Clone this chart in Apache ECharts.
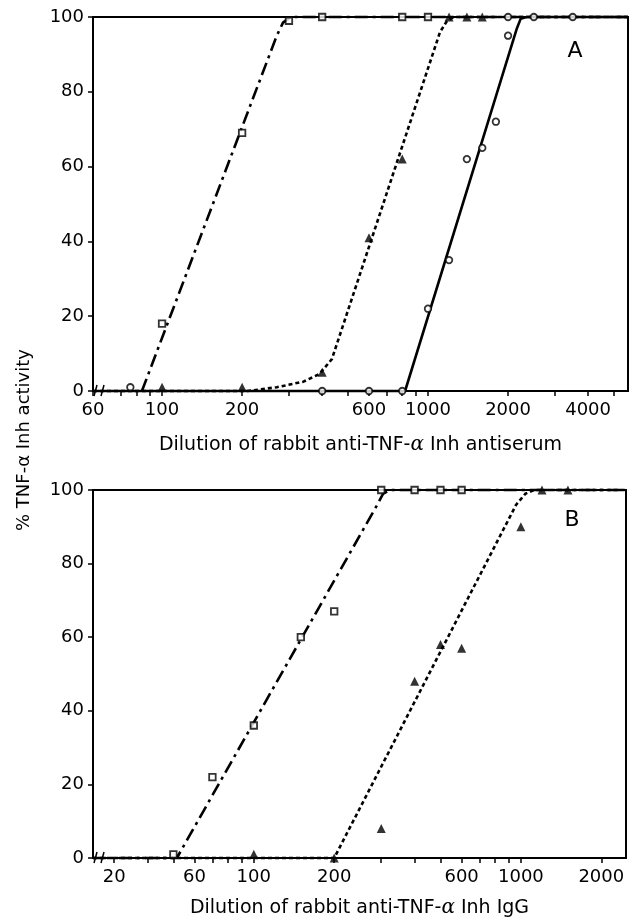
<!DOCTYPE html>
<html><head><meta charset="utf-8">
<script src="https://cdn.jsdelivr.net/npm/echarts@6/dist/echarts.min.js"></script>
<style>html,body{margin:0;padding:0;background:#fff}#c{width:636px;height:919px}</style>
</head><body><div id="c"></div>
<script>
// ---- axis ticks ----
const xMinA = 55, xMaxA = 5650;
const xMinB = 25, xMaxB = 2475;
const tickValsA = [55, 100, 200, 600, 1000, 2000, 4000];
const tickTextA = ['60', '100', '200', '600', '1000', '2000', '4000'];
const minorTicksA = [70, 80, 90, 300, 400, 500, 700, 800, 900, 3000, 5000];
const tickValsB = [30, 60, 100, 200, 600, 1000, 2000];
const tickTextB = ['20', '60', '100', '200', '600', '1000', '2000'];
const minorTicksB = [40, 50, 70, 80, 90, 300, 400, 500, 700, 800, 900];

// ---- panel A data ----
const aSquares = [[100, 18], [200, 69], [300, 99], [400, 100], [800, 100], [1000, 100]];
const aTriangles = [[100, 1], [200, 1], [400, 5], [600, 41], [800, 62], [1200, 100], [1400, 100], [1600, 100]];
const aCircles = [[76, 1], [400, 0], [600, 0], [800, 0], [1000, 22], [1200, 35], [1400, 62], [1600, 65], [1800, 72], [2000, 95], [2000, 100], [2500, 100], [3500, 100]];
const aFitSquares = [[84, 0], [270, 95], [285, 98.5], [305, 100], [5650, 100]];
const aFitTriangles = [[55, 0], [210, 0], [270, 1], [340, 2.5], [390, 4.5], [435, 8.5], [1110, 96], [1180, 99], [1250, 100], [5650, 100]];
const aFitCircles = [[55, 0], [820, 0], [2160, 97], [2230, 99.5], [2350, 100], [5650, 100]];

// ---- panel B data ----
const bSquares = [[50, 1], [70, 22], [100, 36], [150, 60], [200, 67], [300, 100], [400, 100], [500, 100], [600, 100]];
const bTriangles = [[100, 1], [200, 0], [300, 8], [400, 48], [500, 58], [600, 57], [1000, 90], [1200, 100], [1500, 100]];
const bFitSquares = [[25, 0], [51.5, 0], [290, 96], [305, 99], [325, 100], [2475, 100]];
const bFitTriangles = [[25, 0], [200, 0], [960, 96], [1040, 99], [1120, 100], [2475, 100]];

const FONT = '"DejaVu Sans", Arial, Helvetica, sans-serif';
const DASHDOT = [13, 5, 3, 5];
const DOTTED = [4, 3];

function fmt(vals, texts) {
  return function (v) {
    for (let i = 0; i < vals.length; i++) {
      if (Math.abs(Math.log10(v) - Math.log10(vals[i])) < 1e-4) return texts[i];
    }
    return '';
  };
}

function xAxis(idx, min, max, vals, texts, minor, name, nameGap) {
  return {
    type: 'log', logBase: 10, gridIndex: idx, min: min, max: max,
    name: name, nameLocation: 'middle', nameGap: nameGap,
    nameTextStyle: {
      color: '#000', fontSize: 19, fontFamily: FONT,
      rich: {
        n: { fontSize: 19, fontFamily: FONT, color: '#000' },
        a: { fontSize: 20, fontFamily: 'DejaVu Serif, serif', fontStyle: 'italic', color: '#000' }
      }
    },
    axisLine: { show: true, onZero: false, lineStyle: { color: '#000', width: 2 } },
    axisTick: { show: true, inside: false, length: 5, customValues: vals.concat(minor), lineStyle: { color: '#000', width: 1.5 } },
    axisLabel: { show: true, customValues: vals, formatter: fmt(vals, texts), color: '#000', fontSize: 18, fontFamily: FONT, margin: 10 },
    minorTick: { show: false }, splitLine: { show: false }, minorSplitLine: { show: false }
  };
}

function yAxis(idx) {
  return {
    type: 'value', gridIndex: idx, min: 0, max: 100, interval: 20,
    axisLine: { show: true, lineStyle: { color: '#000', width: 2 } },
    axisTick: { show: true, inside: false, length: 5, lineStyle: { color: '#000', width: 1.5 } },
    axisLabel: { color: '#000', fontSize: 18, fontFamily: FONT, margin: 9 },
    splitLine: { show: false }
  };
}

function fitLine(data, ax, dash) {
  return {
    type: 'line', data: data, xAxisIndex: ax, yAxisIndex: ax, showSymbol: false, symbol: 'none',
    lineStyle: { color: '#000', width: 2.6, type: dash }, z: 2, silent: true, animation: false, clip: false
  };
}
function pts(data, ax, kind) {
  const st = {
    square: { symbol: 'rect', symbolSize: 6.5, itemStyle: { color: '#fff', borderColor: '#000', borderWidth: 1.8 } },
    circle: { symbol: 'circle', symbolSize: 6.5, itemStyle: { color: '#fff', borderColor: '#000', borderWidth: 1.8 } },
    triangle: { symbol: 'triangle', symbolSize: 9, itemStyle: { color: '#000' } }
  }[kind];
  return Object.assign({ type: 'scatter', data: data, xAxisIndex: ax, yAxisIndex: ax, z: 5, silent: true, animation: false }, st);
}

const chart = echarts.init(document.getElementById('c'), null, { renderer: 'canvas' });
chart.setOption({
  animation: false,
  backgroundColor: '#fff',
  textStyle: { fontFamily: FONT },
  grid: [
    { left: 93, top: 17, width: 535, height: 374, show: true, borderColor: '#000', borderWidth: 2, backgroundColor: 'transparent' },
    { left: 93, top: 490, width: 533, height: 370, show: true, borderColor: '#000', borderWidth: 2, backgroundColor: 'transparent' }
  ],
  xAxis: [
    xAxis(0, xMinA, xMaxA, tickValsA, tickTextA, minorTicksA, '{n|Dilution of rabbit anti-TNF-}{a|α}{n| Inh antiserum}', 44),
    xAxis(1, xMinB, xMaxB, tickValsB, tickTextB, minorTicksB, '{n|Dilution of rabbit anti-TNF-}{a|α}{n| Inh IgG}', 40)
  ],
  yAxis: [yAxis(0), yAxis(1)],
  series: [
    fitLine(aFitSquares, 0, DASHDOT),
    fitLine(aFitTriangles, 0, DOTTED),
    fitLine(aFitCircles, 0, 'solid'),
    pts(aSquares, 0, 'square'),
    pts(aTriangles, 0, 'triangle'),
    pts(aCircles, 0, 'circle'),
    fitLine(bFitSquares, 1, DASHDOT),
    fitLine(bFitTriangles, 1, DOTTED),
    pts(bSquares, 1, 'square'),
    pts(bTriangles, 1, 'triangle')
  ]
});

// decorations: axis-break marks, panel letters, shared y title
const oA = chart.convertToPixel({ gridIndex: 0 }, [xMinA, 0]);
const oB = chart.convertToPixel({ gridIndex: 1 }, [xMinB, 0]);
function brk(o) {
  return [0, 7].map(function (dx) {
    return { type: 'line', shape: { x1: o[0] + 1 + dx, y1: o[1] + 5, x2: o[0] + 4 + dx, y2: o[1] - 6 }, style: { stroke: '#000', lineWidth: 1.5 }, z: 20 };
  });
}
const pA = chart.convertToPixel({ gridIndex: 0 }, [xMaxA, 100]);
const pB = chart.convertToPixel({ gridIndex: 1 }, [xMaxB, 100]);
chart.setOption({
  graphic: brk(oA).concat(brk(oB)).concat([
    { type: 'text', x: pA[0] - 53, y: pA[1] + 34, style: { text: 'A', font: '22px ' + FONT, fill: '#000', textAlign: 'center', textVerticalAlign: 'middle' }, z: 20 },
    { type: 'text', x: pB[0] - 54, y: pB[1] + 30, style: { text: 'B', font: '22px ' + FONT, fill: '#000', textAlign: 'center', textVerticalAlign: 'middle' }, z: 20 },
    { type: 'text', x: 24, y: 440, rotation: Math.PI / 2, style: { text: '% TNF-α Inh activity', font: '18px ' + FONT, fill: '#000', textAlign: 'center', textVerticalAlign: 'middle' }, z: 20 }
  ])
});
</script>
</body></html>
